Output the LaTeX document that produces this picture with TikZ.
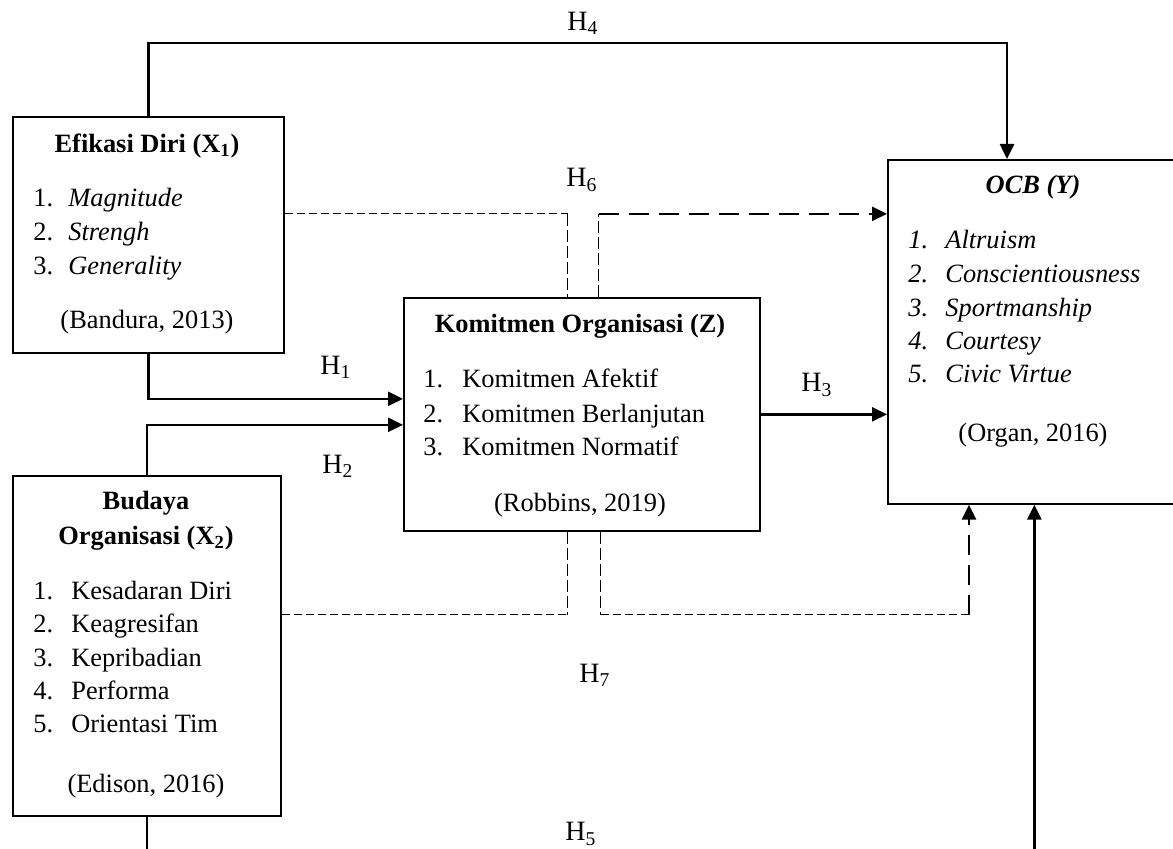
\documentclass[tikz,border=0pt]{standalone}
\usepackage{fontspec}
\setmainfont{Liberation Serif}
\usetikzlibrary{arrows.meta,calc}
\newcommand\myfs{\fontsize{13.2}{15}\selectfont}
\newcommand\mybf{\fontsize{13.2}{15}\selectfont\bfseries}
\newcommand\myhs{\fontsize{14}{15}\selectfont}
\begin{document}
\begin{tikzpicture}[x=0.5pt,y=-0.5pt,
  box/.style={draw,line width=0.85pt,rectangle,inner sep=0pt,anchor=north west},
  txt/.style={inner sep=0pt,anchor=base west,font=\myfs},
  ctr/.style={inner sep=0pt,anchor=base,font=\myfs},
  ttl/.style={inner sep=0pt,anchor=base,font=\mybf},
  hlab/.style={inner sep=0pt,anchor=center,font=\myhs},
  tip/.style={-{Triangle[length=7.5pt,width=7pt]}},
  solidln/.style={line width=1.3pt},
  thinh/.style={line width=0.5pt,dash pattern=on 4pt off 2pt},
  thinv/.style={line width=0.55pt,dash pattern=on 6pt off 2pt},
  thickd/.style={line width=1.3pt,dash pattern=on 10pt off 5pt}
]
\useasboundingbox (0,0) rectangle (1173,849);
\clip (0,0) rectangle (1173,849);

% boxes
\node[box,minimum width=135.5pt,minimum height=118pt] (x1) at (12,116) {};
\node[box,minimum width=134pt,minimum height=170pt] (x2) at (12,475) {};
\node[box,minimum width=178pt,minimum height=116.5pt] (z) at (403,297) {};
\node[box,minimum width=146.5pt,minimum height=172pt] (y) at (887,159) {};

% X1 text
\node[ttl] (t1) at (147,153) {Efikasi Diri (X\textsubscript{1})};
\node[txt] (i11) at (33,207) {\makebox[17.5pt][l]{1.}\textit{Magnitude}};
\node[txt] (i12) at (33,241) {\makebox[17.5pt][l]{2.}\textit{Strengh}};
\node[txt] (i13) at (33,275) {\makebox[17.5pt][l]{3.}\textit{Generality}};
\node[ctr] (c1) at (147,329) {(Bandura, 2013)};

% X2 text
\node[ttl] (t2a) at (146,510) {Budaya};
\node[ttl] (t2b) at (146,545) {Organisasi (X\textsubscript{2})};
\node[txt] (i21) at (33,600) {\makebox[19pt][l]{1.}Kesadaran Diri};
\node[txt] (i22) at (33,633) {\makebox[19pt][l]{2.}Keagresifan};
\node[txt] (i23) at (33,667) {\makebox[19pt][l]{3.}Kepribadian};
\node[txt] (i24) at (33,700) {\makebox[19pt][l]{4.}Performa};
\node[txt] (i25) at (33,733) {\makebox[19pt][l]{5.}Orientasi Tim};
\node[ctr] (c2) at (146,792) {(Edison, 2016)};

% Z text
\node[ttl] (t3) at (580,333) {Komitmen Organisasi (Z)};
\node[txt] (i31) at (423,388) {\makebox[19.5pt][l]{1.}Komitmen Afektif};
\node[txt] (i32) at (423,423) {\makebox[19.5pt][l]{2.}Komitmen Berlanjutan};
\node[txt] (i33) at (423,456) {\makebox[19.5pt][l]{3.}Komitmen Normatif};
\node[ctr] (c3) at (580,512) {(Robbins, 2019)};

% Y text
\node[ttl] (t4) at (1033,194) {\itshape OCB (Y)};
\node[txt] (i41) at (908,249) {\itshape\makebox[18.5pt][l]{1.}Altruism};
\node[txt] (i42) at (908,283) {\itshape\makebox[18.5pt][l]{2.}Conscientiousness};
\node[txt] (i43) at (908,317) {\itshape\makebox[18.5pt][l]{3.}Sportmanship};
\node[txt] (i44) at (908,350) {\itshape\makebox[18.5pt][l]{4.}Courtesy};
\node[txt] (i45) at (908,383) {\itshape\makebox[18.5pt][l]{5.}Civic Virtue};
\node[ctr] (c4) at (1033,442) {(Organ, 2016)};

% hypothesis labels
\node[hlab] (h4) at (583,23) {H\textsubscript{4}};
\node[hlab] (h6) at (582,180) {H\textsubscript{6}};
\node[hlab] (h1) at (336,367) {H\textsubscript{1}};
\node[hlab] (h2) at (338,466) {H\textsubscript{2}};
\node[hlab] (h3) at (817,385) {H\textsubscript{3}};
\node[hlab] (h7) at (595,675) {H\textsubscript{7}};
\node[hlab] (h5) at (581,834) {H\textsubscript{5}};

% coordinates
\coordinate (h4c) at (583,43);
\coordinate (h5c) at (583,880);
\coordinate (ytop) at ($(y.north west)+(120,0)$);
\coordinate (a6) at ($(z.north)+(-14,0)$);
\coordinate (b6) at ($(z.north)+(17,0)$);
\coordinate (l6) at ($(x1.east)+(0,-21)$);
\coordinate (a7) at ($(z.south)+(-14,0)$);
\coordinate (b7) at ($(z.south)+(19,0)$);
\coordinate (l7) at ($(x2.east)+(0,-31)$);
\coordinate (r7) at ($(y.south west)+(82,0)$);

% solid connectors
\draw[solidln,tip] (x1.north) |- (h4c) -| (ytop);
\draw[solidln,tip] (x1.south) |- ($(z.west)+(0,-15.5)$);
\draw[solidln,tip] (x2.north) |- ($(z.west)+(0,10.5)$);
\draw[solidln,tip] (z.east) -- (z.east -| y.west);
\draw[solidln,tip] (x2.south) |- (h5c) -| (y.south);

% H6 dashed
\draw[thinh] (l6) -- (l6 -| a6);
\draw[thinv] (l6 -| a6) -- (a6);
\draw[thinv] (b6) -- (b6 |- l6);
\draw[thickd,tip] (b6 |- l6) -- (l6 -| y.west);

% H7 dashed
\draw[thinh] (l7) -- (l7 -| a7);
\draw[thinv] (a7) -- (l7 -| a7);
\draw[thinv] (b7) -- (b7 |- l7);
\draw[thinh] (b7 |- l7) -- (l7 -| r7);
\draw[thickd,tip] (l7 -| r7) -- (r7);
\end{tikzpicture}
\end{document}
